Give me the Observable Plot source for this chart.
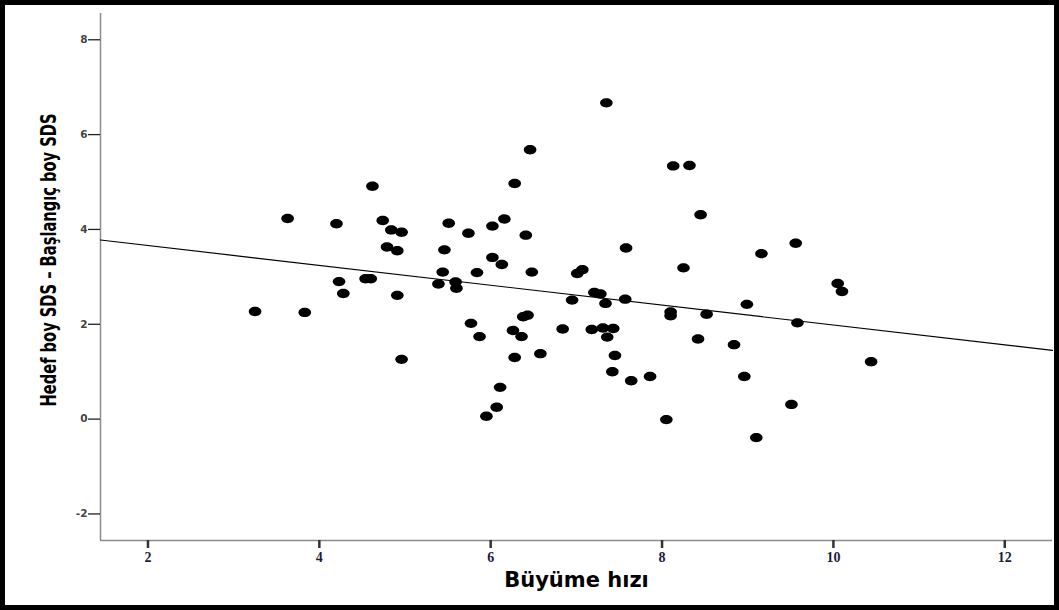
<!DOCTYPE html>
<html>
<head>
<meta charset="utf-8">
<script src="https://cdn.jsdelivr.net/npm/d3@7"></script>
<script src="https://cdn.jsdelivr.net/npm/@observablehq/plot@0.6"></script>
<style>
  html, body { margin: 0; padding: 0; background: #fff; }
  #wrap { position: relative; width: 1059px; height: 610px; overflow: hidden; }
  #frame { position: absolute; left: 0; top: 0; width: 1059px; height: 610px;
           box-sizing: border-box; border: 5px solid #000; pointer-events: none; }
  #chart svg { display: block; }
</style>
</head>
<body>
<div id="wrap"><div id="chart"></div><div id="frame"></div></div>
<script>
// Growth velocity (Büyüme hızı) per child
const buyumeHizi = [
  3.25, 3.63, 3.83, 4.20, 4.23, 4.28, 4.62, 4.54, 4.60, 4.74,
  4.84, 4.96, 4.79, 4.91, 4.91, 4.96, 5.39, 5.44, 5.46, 5.51,
  5.59, 5.60, 5.74, 5.77, 5.84, 5.87, 5.95, 6.02, 6.02, 6.07,
  6.11, 6.13, 6.16, 6.26, 6.28, 6.28, 6.36, 6.38, 6.41, 6.43,
  6.46, 6.48, 6.58, 6.84, 6.95, 7.01, 7.07, 7.18, 7.21, 7.28,
  7.31, 7.34, 7.35, 7.36, 7.42, 7.43, 7.45, 7.57, 7.58, 7.64,
  7.86, 8.05, 8.10, 8.10, 8.13, 8.25, 8.32, 8.42, 8.45, 8.52,
  8.84, 8.96, 8.99, 9.10, 9.16, 9.51, 9.56, 9.58, 10.05, 10.10,
  10.44
];
// Target height SDS minus baseline height SDS for the same children
const sdsFarki = [
  2.27, 4.23, 2.25, 4.12, 2.90, 2.65, 4.91, 2.96, 2.96, 4.19,
  3.99, 3.94, 3.63, 3.55, 2.61, 1.26, 2.85, 3.10, 3.57, 4.13,
  2.89, 2.76, 3.92, 2.02, 3.09, 1.74, 0.06, 4.07, 3.41, 0.25,
  0.67, 3.26, 4.22, 1.87, 4.97, 1.30, 1.74, 2.16, 3.88, 2.19,
  5.68, 3.10, 1.38, 1.90, 2.51, 3.07, 3.15, 1.89, 2.67, 2.64,
  1.92, 2.44, 6.67, 1.73, 1.00, 1.91, 1.34, 2.53, 3.61, 0.81,
  0.90, -0.01, 2.26, 2.18, 5.34, 3.19, 5.35, 1.69, 4.31, 2.21,
  1.57, 0.90, 2.42, -0.39, 3.49, 0.31, 3.71, 2.03, 2.86, 2.69,
  1.21
];

// Fitted linear regression line
const fitIntercept = 4.081;
const fitSlope = -0.2097;

const xTicks = [2, 4, 6, 8, 10, 12];
const yTicks = [-2, 0, 2, 4, 6, 8];
const xDomain = [1.446, 12.557];
const yDomain = [-2.56, 8.554];

const xTitle = "Büyüme hızı";
const yTitle = "Hedef boy SDS – Başlangıç boy SDS";

const points = buyumeHizi.map((x, i) => ({x, y: sdsFarki[i]}));
const fit = xDomain.map(x => ({x, y: fitIntercept + fitSlope * x}));

// Slightly flattened filled marker
const ellipse = {
  draw(context) {
    const rx = 6.3, ry = 4.7, k = 0.5523;
    context.moveTo(rx, 0);
    context.bezierCurveTo(rx, k * ry, k * rx, ry, 0, ry);
    context.bezierCurveTo(-k * rx, ry, -rx, k * ry, -rx, 0);
    context.bezierCurveTo(-rx, -k * ry, -k * rx, -ry, 0, -ry);
    context.bezierCurveTo(k * rx, -ry, rx, -k * ry, rx, 0);
    context.closePath();
  }
};

const chart = Plot.plot({
  width: 1059,
  height: 610,
  marginLeft: 100,
  marginRight: 7,
  marginTop: 13,
  marginBottom: 70,
  style: {background: "#fff"},
  x: {domain: xDomain, label: null},
  y: {domain: yDomain, label: null},
  marks: [
    Plot.ruleX([xDomain[0]], {stroke: "#8c8c8c", strokeWidth: 1.5}),
    Plot.ruleY([yDomain[0]], {stroke: "#8c8c8c", strokeWidth: 1.5}),
    Plot.axisY({
      ticks: yTicks, tickFormat: d => String(d), tickSize: 12, tickPadding: 1,
      stroke: "#222", strokeWidth: 1.3, fill: "#444",
      fontFamily: "DejaVu Sans", fontSize: 10.5, fontWeight: "bold", label: null
    }),
    Plot.axisX({
      ticks: xTicks, tickFormat: d => String(d), tickSize: 8, tickPadding: 4,
      stroke: "#333", strokeWidth: 2.5, fill: "#1c1c3c",
      fontFamily: "Liberation Serif", fontSize: 14, fontWeight: "bold", label: null
    }),
    Plot.line(fit, {x: "x", y: "y", stroke: "#000", strokeWidth: 1.2}),
    Plot.dot(points, {x: "x", y: "y", symbol: ellipse, fill: "#000", stroke: "none"}),
    Plot.text([xTitle], {
      frameAnchor: "bottom", dy: 46, text: d => d, textAnchor: "middle",
      fontFamily: "DejaVu Sans", fontSize: 21, fontWeight: "bold", fill: "#000"
    }),
    Plot.text([yTitle], {
      frameAnchor: "left", dx: -52, dy: -17, rotate: -90, text: d => d,
      textAnchor: "middle",
      fontFamily: "DejaVu Sans Condensed, Liberation Sans Narrow, DejaVu Sans",
      fontSize: 22, fontWeight: "bold", fill: "#000", className: "ytitle"
    })
  ]
});

document.getElementById("chart").appendChild(chart);

// Condensed axis title spans a fixed length along the y axis
d3.select(chart).selectAll(".ytitle text")
  .attr("textLength", 293)
  .attr("lengthAdjust", "spacingAndGlyphs");
</script>
</body>
</html>
